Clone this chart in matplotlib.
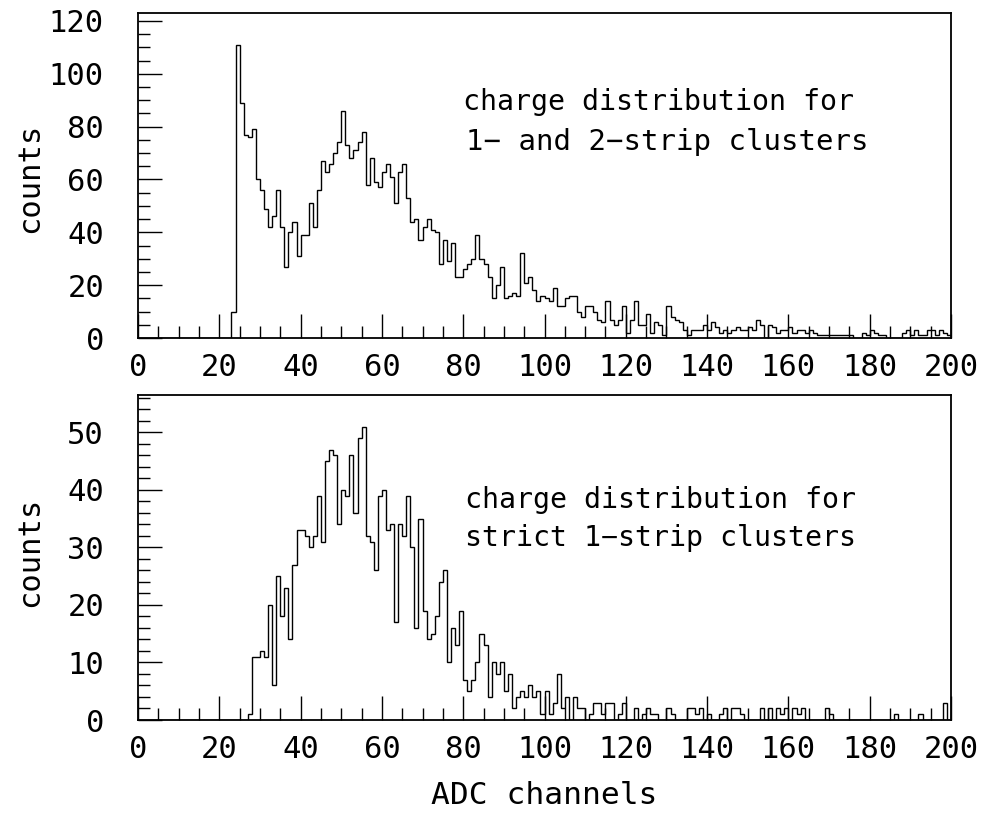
import numpy as np
import matplotlib
matplotlib.use("Agg")
import matplotlib.pyplot as plt
from matplotlib.ticker import MultipleLocator

plt.rcParams['font.family'] = ['DejaVu Sans Mono', 'DejaVu Sans']

# ---------------- data ----------------
bin_edges = list(range(0, 201))  # 200 bins of width 1 ADC channel

counts_12strip = (
    [0] * 23 +
    [10, 111, 89, 77, 76, 79, 60, 56, 49, 42,        # 23-32
     46, 56, 42, 27, 40, 44, 31, 39, 39, 51,         # 33-42
     42, 56, 67, 63, 66, 70, 74, 86, 73, 68,         # 43-52
     71, 74, 78, 58, 68, 59, 57, 63, 66, 61,         # 53-62
     51, 63, 66, 53, 44, 45, 37, 42, 45, 41,         # 63-72
     40, 28, 37, 29, 36, 23, 23, 26, 28, 30,         # 73-82
     39, 30, 28, 23, 15, 20, 27, 15, 16, 17,         # 83-92
     16, 32, 21, 23, 18, 14, 16, 15, 14, 19,         # 93-102
     12, 12, 15, 16, 16, 10, 8, 12, 12, 10,          # 103-112
     7, 6, 14, 7, 5, 7, 12, 2, 7, 14,                # 113-122
     5, 5, 9, 2, 6, 5, 1, 12, 8, 7,                  # 123-132
     6, 3, 1, 3, 3, 3, 5, 3, 6, 4,                   # 133-142
     2, 3, 2, 3, 4, 3, 3, 4, 3, 7,                   # 143-152
     5, 0, 5, 4, 2, 3, 3, 4, 2, 3,                   # 153-162
     3, 2, 3, 2, 1, 1, 1, 1, 1, 1,                   # 163-172
     1, 1, 1, 0, 0, 2, 1, 3, 2, 1,                   # 173-182
     1, 0, 0, 0, 0, 2, 3, 1, 3, 1,                   # 183-192
     1, 3, 3, 1, 3, 2, 1]                            # 193-199
)

counts_1strip = (
    [0] * 27 +
    [1, 11, 11, 12, 11, 20, 6, 25, 18, 23,           # 27-36
     14, 27, 33, 33, 32, 30, 32, 39, 31, 45,         # 37-46
     47, 46, 34, 40, 39, 46, 36, 49, 51, 32,         # 47-56
     31, 26, 39, 40, 33, 34, 17, 34, 32, 39,         # 57-66
     30, 16, 35, 19, 14, 15, 18, 24, 26, 10,         # 67-76
     16, 13, 19, 7, 5, 7, 10, 15, 13, 4,             # 77-86
     10, 8, 10, 5, 8, 2, 4, 5, 4, 6,                 # 87-96
     4, 5, 1, 5, 1, 3, 8, 2, 4, 0,                   # 97-106
     4, 2, 2, 0, 1, 3, 3, 1, 3, 3,                   # 107-116
     0, 1, 3, 0, 0, 2, 0, 1, 2, 1,                   # 117-126
     1, 0, 0, 2, 1, 0, 0, 0, 2, 2,                   # 127-136
     1, 2, 0, 1, 0, 0, 1, 2, 0, 2,                   # 137-146
     2, 1, 0, 0, 0, 0, 2, 0, 2, 0,                   # 147-156
     2, 1, 2, 0, 2, 1, 2, 0, 0, 0,                   # 157-166
     0, 0, 2, 1, 0, 0, 0, 0, 0, 0,                   # 167-176
     0, 0, 0, 0, 0, 0, 0, 0, 0, 1,                   # 177-186
     0, 0, 0, 0, 0, 1, 0, 0, 0, 0,                   # 187-196
     0, 3, 0]                                        # 197-199
)

x_ticks = [0, 20, 40, 60, 80, 100, 120, 140, 160, 180, 200]
top_yticks = [0, 20, 40, 60, 80, 100, 120]
bot_yticks = [0, 10, 20, 30, 40, 50]
top_text = ["charge distribution for", "1\u2212 and 2\u2212strip clusters"]
bot_text = ["charge distribution for", "strict 1\u2212strip clusters"]
xlabel = "ADC channels"
ylabel = "counts"

# ---------------- figure ----------------
W, H = 989, 815
fig = plt.figure(figsize=(W / 100, H / 100), dpi=100)

left = 138 / W
width = (951 - 138) / W
ax_top = fig.add_axes([left, 1 - 338 / H, width, (338 - 13) / H])
ax_bot = fig.add_axes([left, 1 - 720 / H, width, (720 - 395) / H])

FS = 22
FS_TXT = 20.3
px = 0.72  # points per pixel at dpi 100


def style(ax, ymax, yminor, yticks, label_y):
    ax.set_xlim(0, 200)
    ax.set_ylim(0, ymax)
    ax.set_xticks(x_ticks)
    ax.set_yticks(yticks)
    ax.xaxis.set_minor_locator(MultipleLocator(5))
    ax.yaxis.set_minor_locator(MultipleLocator(yminor))
    ax.tick_params(axis='both', which='both', direction='in', top=False,
                   right=False, width=1.0, color='black')
    ax.tick_params(axis='both', which='major', length=24 * px)
    ax.tick_params(axis='both', which='minor', length=12 * px)
    ax.tick_params(axis='x', which='major', pad=15 * px, labelsize=FS,
                   labelcolor='black')
    ax.tick_params(axis='y', which='major', pad=34 * px, labelsize=FS,
                   labelcolor='black')
    for s in ax.spines.values():
        s.set_linewidth(1.3)
        s.set_color('black')
    ax.set_ylabel(ylabel, fontsize=FS, color='black')
    ax.yaxis.set_label_coords((44 - 138) / 813, label_y)


ax_top.stairs(counts_12strip, bin_edges, color='black', linewidth=1.0, baseline=0)
ax_bot.stairs(counts_1strip, bin_edges, color='black', linewidth=1.0, baseline=0)

style(ax_top, 123, 5, top_yticks, (338 - 178) / 325)
style(ax_bot, 56.5, 2, bot_yticks, (720 - 552) / 325)

ax_bot.set_xlabel(xlabel, fontsize=22.5, labelpad=17 * px, color='black')

# annotations (baseline positions in axes fraction)
ax_top.text((463 - 138) / 813, (338 - 110) / 325, top_text[0],
            transform=ax_top.transAxes, fontsize=FS_TXT, va='baseline', ha='left')
ax_top.text((466 - 138) / 813, (338 - 150) / 325, top_text[1],
            transform=ax_top.transAxes, fontsize=FS_TXT * 1.03, va='baseline', ha='left')
ax_bot.text((465 - 138) / 813, (720 - 508) / 325, bot_text[0],
            transform=ax_bot.transAxes, fontsize=FS_TXT, va='baseline', ha='left')
ax_bot.text((465 - 138) / 813, (720 - 546) / 325, bot_text[1],
            transform=ax_bot.transAxes, fontsize=FS_TXT, va='baseline', ha='left')

fig.savefig("out.png", dpi=100, facecolor='white')
